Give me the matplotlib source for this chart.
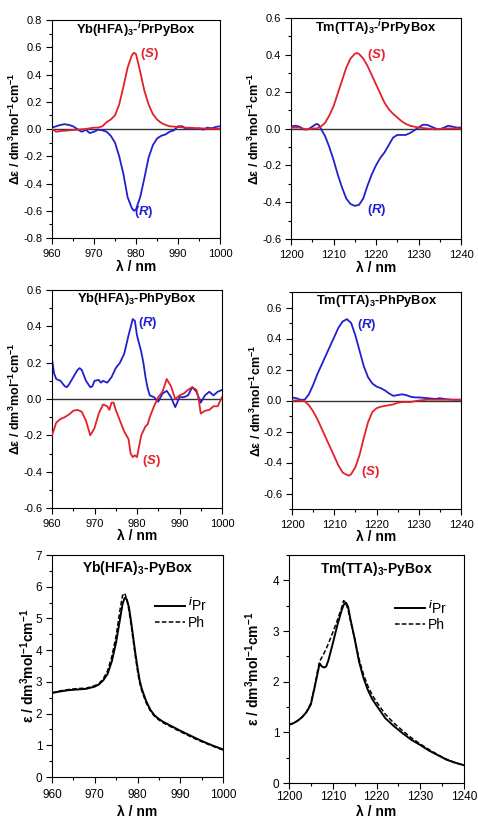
import numpy as np
import matplotlib
matplotlib.use("Agg")
import matplotlib.pyplot as plt
from matplotlib.ticker import MultipleLocator

plt.rcParams['font.family'] = ['Liberation Sans', 'DejaVu Sans']
plt.rcParams['mathtext.fontset'] = 'custom'
plt.rcParams['mathtext.rm'] = 'Liberation Sans:bold'
plt.rcParams['mathtext.bf'] = 'Liberation Sans:bold'
plt.rcParams['mathtext.it'] = 'Liberation Sans:italic:bold'
plt.rcParams['mathtext.default'] = 'bf'
plt.rcParams['axes.unicode_minus'] = False

RED = '#e4202a'
BLUE = '#2020d0'

# --- CD spectra, Yb(HFA)3-iPrPyBox ---
wl1_s = [960, 961, 962, 964, 966, 968, 970, 971, 972, 973, 974, 975, 976, 977, 978, 979, 979.5,
         980, 981, 982, 983, 984, 985, 986, 987, 988, 990, 992, 995, 1000]
s1 = [0.0, -0.02, -0.015, -0.01, -0.005, 0.0, 0.01, 0.01, 0.02, 0.05, 0.07, 0.1, 0.18, 0.31, 0.45, 0.54, 0.56,
      0.55, 0.42, 0.28, 0.18, 0.11, 0.07, 0.045, 0.03, 0.02, 0.015, 0.01, 0.005, 0.0]
wl1_r = [960, 961, 962, 963, 964, 965, 966, 967, 967.5, 968, 969, 970, 971, 972, 973, 974, 975, 976, 977,
         978, 979, 979.5, 980, 981, 982, 983, 984, 985, 986, 987, 988, 989, 990, 991, 992, 993, 994, 995,
         996, 997, 998, 999, 1000]
r1 = [0.01, 0.02, 0.03, 0.035, 0.03, 0.02, 0.0, -0.02, -0.015, -0.005, -0.03, -0.02, -0.005, -0.01, -0.02,
      -0.05, -0.1, -0.2, -0.33, -0.5, -0.58, -0.6, -0.59, -0.5, -0.36, -0.21, -0.12, -0.07, -0.05, -0.04,
      -0.02, -0.01, 0.02, 0.02, 0.0, 0.01, 0.0, 0.005, -0.005, 0.01, 0.005, 0.015, 0.02]

# --- CD spectra, Tm(TTA)3-iPrPyBox ---
wl2_s = [1200, 1202, 1203.5, 1205, 1206, 1207, 1208, 1209, 1210, 1211, 1212, 1213, 1214, 1215, 1215.5,
         1216, 1217, 1218, 1219, 1220, 1221, 1222, 1223, 1224, 1225, 1226, 1227, 1228, 1230, 1232, 1234,
         1236, 1240]
s2 = [0.005, 0.005, -0.005, 0.0, 0.0, 0.01, 0.03, 0.07, 0.12, 0.19, 0.26, 0.33, 0.38, 0.405, 0.41,
      0.405, 0.38, 0.34, 0.29, 0.24, 0.19, 0.14, 0.105, 0.08, 0.06, 0.04, 0.025, 0.015, 0.005, 0.0, -0.005,
      0.0, 0.0]
wl2_r = [1200, 1201, 1202, 1203, 1204, 1205, 1206, 1206.5, 1207, 1208, 1209, 1210, 1211, 1212, 1213,
         1214, 1215, 1216, 1217, 1218, 1219, 1220, 1221, 1222, 1223, 1224, 1225, 1226, 1227, 1228, 1229,
         1230, 1231, 1232, 1233, 1234, 1235, 1236, 1237, 1238, 1239, 1240]
r2 = [0.01, 0.015, 0.01, -0.005, -0.005, 0.01, 0.025, 0.02, 0.0, -0.04, -0.1, -0.17, -0.25, -0.32, -0.38,
      -0.41, -0.42, -0.415, -0.38, -0.31, -0.25, -0.2, -0.16, -0.13, -0.09, -0.05, -0.035, -0.035, -0.035,
      -0.025, -0.01, 0.005, 0.02, 0.02, 0.01, 0.0, -0.005, 0.005, 0.015, 0.01, 0.005, 0.005]

# --- CD spectra, Yb(HFA)3-PhPyBox ---
wl3_r = [960, 960.5, 961, 962, 963, 963.5, 964, 965, 966, 966.5, 967, 968, 969, 969.5, 970, 971, 971.5,
         972, 973, 974, 975, 976, 977, 978, 979, 979.5, 980, 981, 981.5, 982, 982.5, 983, 984, 985, 986,
         987, 988, 989, 990, 991, 992, 993, 994, 995, 996, 997, 998, 999, 1000]
r3 = [0.22, 0.14, 0.11, 0.1, 0.07, 0.065, 0.08, 0.12, 0.16, 0.17, 0.16, 0.1, 0.065, 0.07, 0.1, 0.105, 0.09,
      0.1, 0.09, 0.12, 0.17, 0.2, 0.25, 0.35, 0.44, 0.43, 0.35, 0.26, 0.2, 0.12, 0.06, 0.02, 0.01, -0.015,
      0.03, 0.045, 0.01, -0.045, 0.01, 0.01, 0.02, 0.065, 0.04, -0.02, 0.02, 0.04, 0.02, 0.04, 0.05]
wl3_s = [960, 961, 962, 963, 964, 965, 966, 967, 968, 969, 970, 971, 972, 973, 973.5, 974, 974.5, 975,
         976, 977, 978, 978.5, 979, 979.5, 980, 981, 982, 982.5, 983, 984, 985, 986, 987, 988, 989, 990,
         991, 992, 993, 994, 994.5, 995, 996, 997, 998, 999, 1000]
s3 = [-0.2, -0.13, -0.11, -0.1, -0.085, -0.065, -0.06, -0.07, -0.12, -0.2, -0.16, -0.08, -0.03, -0.04,
      -0.06, -0.02, -0.02, -0.06, -0.12, -0.18, -0.22, -0.3, -0.32, -0.31, -0.32, -0.2, -0.15, -0.14, -0.1,
      -0.04, 0.01, 0.04, 0.11, 0.07, 0.0, 0.02, 0.03, 0.05, 0.065, 0.05, 0.0, -0.08, -0.065, -0.06, -0.04,
      -0.04, 0.01]

# --- CD spectra, Tm(TTA)3-PhPyBox ---
wl4_r = [1200, 1201, 1202, 1203, 1204, 1205, 1206, 1207, 1208, 1209, 1210, 1211, 1212, 1213, 1214, 1215,
         1216, 1217, 1218, 1219, 1220, 1221, 1222, 1223, 1224, 1225, 1226, 1227, 1228, 1229, 1230, 1232,
         1234, 1235, 1236, 1238, 1240]
r4 = [0.02, 0.015, 0.005, 0.005, 0.04, 0.1, 0.17, 0.23, 0.29, 0.35, 0.41, 0.47, 0.51, 0.525, 0.5, 0.42,
      0.32, 0.22, 0.15, 0.11, 0.09, 0.08, 0.065, 0.045, 0.03, 0.035, 0.04, 0.035, 0.025, 0.02, 0.02, 0.015,
      0.01, 0.015, 0.01, 0.005, 0.005]
wl4_s = [1200, 1202, 1203, 1204, 1205, 1206, 1207, 1208, 1209, 1210, 1211, 1212, 1213, 1213.5, 1214,
         1215, 1216, 1217, 1218, 1219, 1220, 1221, 1222, 1223, 1224, 1225, 1226, 1228, 1230, 1232, 1235,
         1240]
s4 = [0.0, 0.0, -0.005, -0.03, -0.07, -0.12, -0.18, -0.24, -0.3, -0.36, -0.42, -0.465, -0.48, -0.485,
      -0.475, -0.43, -0.35, -0.24, -0.14, -0.075, -0.05, -0.04, -0.035, -0.03, -0.025, -0.015, -0.01,
      -0.01, 0.0, 0.005, 0.005, 0.005]

# --- absorption, Yb(HFA)3-PyBox ---
wl5 = [960, 962, 964, 966, 968, 970, 971, 972, 973, 974, 975, 976, 976.5, 977, 977.5, 978, 978.5, 979,
       979.5, 980, 980.5, 981, 982, 983, 984, 985, 986, 988, 990, 992, 994, 996, 998, 1000]
ipr5 = [2.65, 2.7, 2.74, 2.76, 2.78, 2.85, 2.92, 3.05, 3.25, 3.65, 4.25, 5.05, 5.45, 5.65, 5.6, 5.35, 4.9,
        4.4, 3.9, 3.45, 3.05, 2.78, 2.4, 2.12, 1.94, 1.83, 1.74, 1.6, 1.46, 1.33, 1.2, 1.08, 0.97, 0.87]
ph5 = [2.65, 2.72, 2.76, 2.79, 2.8, 2.88, 2.95, 3.1, 3.35, 3.8, 4.45, 5.35, 5.72, 5.8, 5.6, 5.25, 4.8,
       4.3, 3.8, 3.35, 2.97, 2.72, 2.35, 2.09, 1.91, 1.8, 1.71, 1.57, 1.43, 1.3, 1.17, 1.06, 0.95, 0.85]

# --- absorption, Tm(TTA)3-PyBox ---
wl6 = [1200, 1201, 1202, 1203, 1204, 1205, 1206, 1206.5, 1207, 1207.5, 1208, 1208.5, 1209, 1210, 1211,
       1212, 1212.5, 1213, 1213.5, 1214, 1215, 1216, 1217, 1218, 1219, 1220, 1222, 1224, 1226, 1228,
       1230, 1232, 1234, 1236, 1238, 1240]
ipr6 = [1.15, 1.18, 1.23, 1.3, 1.4, 1.55, 1.95, 2.15, 2.36, 2.3, 2.28, 2.3, 2.42, 2.75, 3.1, 3.4, 3.52,
        3.56, 3.48, 3.25, 2.85, 2.4, 2.08, 1.84, 1.66, 1.53, 1.28, 1.12, 0.98, 0.85, 0.75, 0.64, 0.55,
        0.46, 0.4, 0.35]
ph6 = [1.15, 1.18, 1.23, 1.3, 1.4, 1.58, 1.95, 2.2, 2.4, 2.48, 2.56, 2.65, 2.75, 2.97, 3.2, 3.45, 3.6,
       3.55, 3.42, 3.22, 2.85, 2.45, 2.15, 1.92, 1.74, 1.6, 1.36, 1.18, 1.03, 0.89, 0.77, 0.66, 0.56, 0.47,
       0.4, 0.35]

titles = [r'Yb(HFA)$_3$-$^{\mathit{i}}$PrPyBox', r'Tm(TTA)$_3$-$^{\mathit{i}}$PrPyBox',
          r'Yb(HFA)$_3$-PhPyBox', r'Tm(TTA)$_3$-PhPyBox',
          r'Yb(HFA)$_3$-PyBox', r'Tm(TTA)$_3$-PyBox']

W, H = 478, 819
fig = plt.figure(figsize=(W / 100, H / 100), dpi=100)


def add_axes(left, right, top, bottom):
    return fig.add_axes([left / W, 1 - bottom / H, (right - left) / W, (bottom - top) / H])


def style(ax, xlim, ylim, xmaj, xmin, ymaj, ymin, ylabel, title, ty, fs):
    tick_fs, ylab_fs, title_fs, xpad, ylx, xly = fs
    ax.set_xlim(*xlim)
    ax.set_ylim(*ylim)
    ax.xaxis.set_major_locator(MultipleLocator(xmaj))
    ax.xaxis.set_minor_locator(MultipleLocator(xmin))
    ax.yaxis.set_major_locator(MultipleLocator(ymaj))
    ax.yaxis.set_minor_locator(MultipleLocator(ymin))
    ax.tick_params(which='both', direction='out', top=False, right=False, labelsize=tick_fs, width=0.8)
    ax.tick_params(which='major', length=4)
    ax.tick_params(which='minor', length=2)
    ax.tick_params(axis='x', which='major', pad=xpad)
    ax.tick_params(axis='y', which='major', pad=3)
    for sp in ax.spines.values():
        sp.set_linewidth(0.8)
    ax.set_xlabel('λ / nm', fontsize=10, fontweight='bold', va='center')
    ax.set_ylabel(ylabel, fontsize=ylab_fs, fontweight='bold', va='center')
    ax.xaxis.set_label_coords(0.5, xly)
    ax.yaxis.set_label_coords(ylx, 0.5)
    ax.text(0.5, ty, title, transform=ax.transAxes, ha='center', va='center', fontsize=title_fs,
            fontweight='bold')


cd_label = 'Δε / dm$^3$mol$^{-1}$cm$^{-1}$'
abs_label = 'ε / dm$^3$mol$^{-1}$cm$^{-1}$'

# CD panels
cd_panels = [
    ((52, 220, 20, 238), wl1_s, s1, wl1_r, r1, (960, 1000), (-0.8, 0.8),
     (983.3, 0.55), (981.8, -0.61), 0.955, -0.22, -0.133),
    ((291, 461, 18, 239), wl2_s, s2, wl2_r, r2, (1200, 1240), (-0.6, 0.6),
     (1220.2, 0.4), (1220.2, -0.44), 0.955, -0.215, -0.13),
    ((52, 222, 290, 508), wl3_s, s3, wl3_r, r3, (960, 1000), (-0.6, 0.6),
     (983.3, -0.34), (982.5, 0.42), 0.96, -0.215, -0.13),
    ((292, 461, 292, 509), wl4_s, s4, wl4_r, r4, (1200, 1240), (-0.7, 0.7),
     (1218.5, -0.46), (1217.8, 0.49), 0.96, -0.21, -0.13),
]

for i, (box, ws, s, wr, r, xl, yl, spos, rpos, ty, ylx, xly) in enumerate(cd_panels):
    ax = add_axes(*box)
    ax.axhline(0, color='#333333', lw=1.0, zorder=1)
    ax.plot(ws, s, color=RED, lw=1.3, zorder=3)
    ax.plot(wr, r, color=BLUE, lw=1.3, zorder=2)
    ax.text(*spos, r'($\mathit{S}$)', color=RED, fontsize=9.5, fontweight='bold', ha='center', va='center')
    ax.text(*rpos, r'($\mathit{R}$)', color=BLUE, fontsize=9.5, fontweight='bold', ha='center', va='center')
    style(ax, xl, yl, 10, 5, 0.2, 0.1, cd_label, titles[i], ty, (8, 9, 9.3, 4, ylx, xly))

# absorption panels
abs_panels = [
    ((52, 223, 555, 777), wl5, ipr5, ph5, (960, 1000), (0, 7), (0.906, 0.815), 5, -0.145, -0.158),
    ((289, 464, 555, 783), wl6, ipr6, ph6, (1200, 1240), (0, 4.5), (0.903, 0.81), 2, -0.205, -0.127),
]

for j, (box, wl, a_ipr, a_ph, xl, yl, lpos, xpad, ylx, xly) in enumerate(abs_panels):
    ax = add_axes(*box)
    ax.plot(wl, a_ipr, color='black', lw=1.4, label=r'$^{\mathit{i}}$Pr')
    ax.plot(wl, a_ph, color='black', lw=1.1, ls=(0, (3, 1.5)), label='Ph')
    style(ax, xl, yl, 10, 5, 1, 0.5, abs_label, titles[4 + j], 0.94, (8.5, 10, 10, xpad, ylx, xly))
    ax.legend(loc='upper right', bbox_to_anchor=lpos, frameon=False, fontsize=10,
              handlelength=2.15, handletextpad=0.2, labelspacing=0.15, borderpad=0, borderaxespad=0)

fig.savefig('out.png', dpi=100)
